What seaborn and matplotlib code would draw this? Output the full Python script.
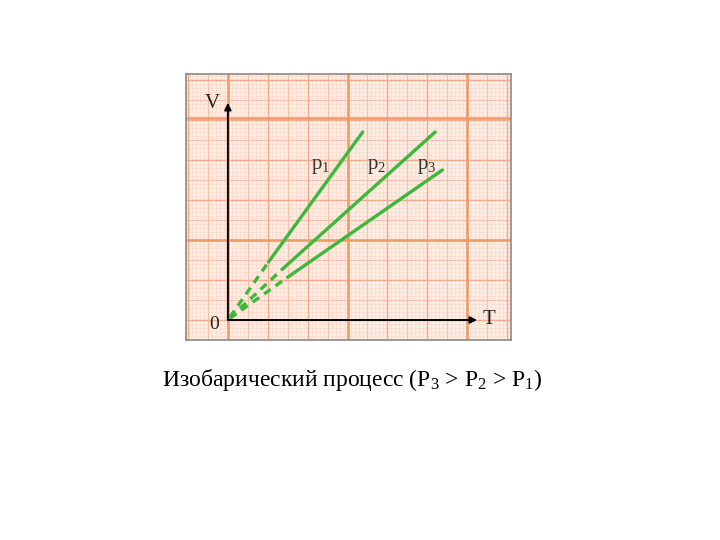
"""
Isobaric process: V(T) lines for three pressures on graph paper.
"""
import matplotlib
matplotlib.use('Agg')
import matplotlib.pyplot as plt
import numpy as np
import seaborn as sns

# solid (measured) parts of the isobars, T and V in grid units
P1_T = [1.02, 3.38]
P1_V = [1.45, 4.70]
P2_T = [1.42, 5.20]
P2_V = [1.32, 4.70]
P3_T = [1.50, 5.38]
P3_V = [1.07, 3.75]
# dashed extrapolation towards zero
P1_T_EXT = [0.05, 1.02]
P1_V_EXT = [0.07, 1.45]
P2_T_EXT = [0.05, 1.42]
P2_V_EXT = [0.05, 1.32]
P3_T_EXT = [0.05, 1.50]
P3_V_EXT = [0.04, 1.07]
LABELS = ['p$_1$', 'p$_2$', 'p$_3$']
LABEL_T = [2.32, 3.74, 4.99]
LABEL_V = [3.83, 3.83, 3.83]
CAPTION = 'Изобарический процесс (P$_3$ > P$_2$ > P$_1$)'

GREEN = '#3cb83c'
XLIM = (-1.05, 7.1)
YLIM = (-0.5, 6.15)


def draw_paper(ax):
    ax.set_facecolor('#fdece2')
    # (step, offset, colour, width) for vertical and horizontal rulings
    levels = [(0.1, 0.0, '#f9dccd', 0.45), (0.5, 0.0, '#f4c2aa', 0.8),
              (1.0, 0.0, '#f1ae8e', 1.0)]
    for step, off, color, lw in levels:
        for x in np.arange(np.floor(XLIM[0] / step) * step + off, XLIM[1], step):
            ax.axvline(x, color=color, lw=lw, zorder=0)
        for y in np.arange(np.floor(YLIM[0] / step) * step + off, YLIM[1], step):
            ax.axhline(y, color=color, lw=lw, zorder=0)
    for x in [0, 3, 6]:
        ax.axvline(x, color='#ee9a6a', lw=1.8, zorder=0)
    for y in [2, 5.05]:
        ax.axhline(y, color='#ee9a6a', lw=1.8, zorder=0)


def main():
    sns.set_theme(style='white')
    plt.rcParams['font.family'] = ['Liberation Serif', 'DejaVu Serif']
    plt.rcParams['mathtext.fontset'] = 'custom'
    plt.rcParams['mathtext.rm'] = 'Liberation Serif'
    plt.rcParams['mathtext.it'] = 'Liberation Serif:italic'

    fig = plt.figure(figsize=(7.2, 5.4), dpi=100)
    fig.patch.set_facecolor('white')
    ax = fig.add_axes([186 / 720, (540 - 340) / 540, (511 - 186) / 720, (340 - 74) / 540])
    draw_paper(ax)

    solid = [(P1_T, P1_V), (P2_T, P2_V), (P3_T, P3_V)]
    dashed = [(P1_T_EXT, P1_V_EXT), (P2_T_EXT, P2_V_EXT), (P3_T_EXT, P3_V_EXT)]
    for t, v in solid:
        sns.lineplot(x=t, y=v, ax=ax, color=GREEN, lw=2.4, zorder=3)
    for t, v in dashed:
        sns.lineplot(x=t, y=v, ax=ax, color=GREEN, lw=2.4, zorder=3,
                     linestyle=(0, (2.4, 1.8)))

    for lab, t, v in zip(LABELS, LABEL_T, LABEL_V):
        ax.text(t, v, lab, fontsize=15, color='#333333', ha='center', va='center', zorder=4)

    # axes arrows
    arrow = dict(arrowstyle='-|>', color='black', lw=1.4, mutation_scale=10, shrinkA=0, shrinkB=0)
    ax.annotate('', xy=(0, 5.43), xytext=(0, 0), arrowprops=arrow, zorder=5)
    ax.annotate('', xy=(6.25, 0), xytext=(0, 0), arrowprops=arrow, zorder=5)
    ax.text(-0.4, 5.4, 'V', fontsize=15, color='#222222', ha='center', va='center')
    ax.text(6.55, 0.0, 'T', fontsize=15, color='#222222', ha='center', va='center')
    ax.text(-0.35, -0.12, '0', fontsize=14, color='#222222', ha='center', va='center')

    ax.set_xlim(*XLIM)
    ax.set_ylim(*YLIM)
    ax.set_xticks([])
    ax.set_yticks([])
    ax.set_xlabel(None)
    ax.set_ylabel(None)
    for s in ax.spines.values():
        s.set_color('#8a8a8a')
        s.set_linewidth(1.2)

    fig.text(352 / 720, 1 - 380 / 540, CAPTION, fontsize=17, color='black', ha='center', va='center')
    fig.savefig('out.png', dpi=100, facecolor='white')
    plt.close(fig)


if __name__ == '__main__':
    main()
